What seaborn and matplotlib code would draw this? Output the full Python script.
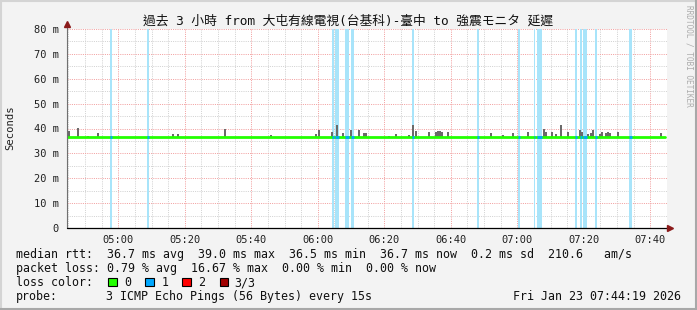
import matplotlib
matplotlib.use("Agg")
import numpy as np
import pandas as pd
import seaborn as sns
import matplotlib.pyplot as plt
import matplotlib.dates as mdates
from matplotlib.patches import Rectangle
from matplotlib.lines import Line2D

# ---------------- data ----------------
DAY = "2026-01-23 "
title_text = "過去 3 小時 from 大屯有線電視(台基科)-臺中 to 強震モニタ 延遲"

median_times = ["04:44:36", "07:44:19"]
median_ms = [36.7, 36.7]

smoke_times = [
    "04:45:12", "04:47:54", "04:50:54", "04:53:54", "05:16:24", "05:18:00",
    "05:32:12", "05:45:54", "05:59:30", "06:00:24", "06:04:18", "06:05:54",
    "06:07:42", "06:10:06", "06:12:24", "06:13:54", "06:14:30", "06:21:24",
    "06:23:30", "06:27:24", "06:28:36", "06:29:30", "06:33:24", "06:35:30",
    "06:36:06", "06:36:42", "06:37:18", "06:39:06", "06:52:06", "06:55:42",
    "06:58:42", "07:03:12", "07:08:00", "07:08:36", "07:10:24", "07:11:36",
    "07:13:06", "07:15:18", "07:18:54", "07:19:30", "07:21:12", "07:22:06",
    "07:22:42", "07:24:54", "07:25:30", "07:26:42", "07:27:18", "07:27:54",
    "07:30:18", "07:43:12",
]
smoke_max_ms = [
    38.8, 40.2, 37.0, 38.2, 37.8, 37.8,
    39.8, 37.3, 37.8, 39.4, 38.5, 41.4,
    38.2, 39.4, 39.4, 38.2, 38.2, 37.0,
    37.8, 37.5, 41.4, 39.0, 38.6, 38.4,
    39.0, 38.8, 38.4, 38.6, 38.2, 37.5,
    38.2, 38.6, 39.8, 38.6, 38.6, 37.8,
    41.4, 38.6, 39.4, 38.6, 37.8, 38.2,
    39.4, 37.8, 38.6, 38.2, 38.6, 38.2,
    38.6, 38.2,
]

loss_start = [
    "04:57:30", "05:08:36", "06:04:18", "06:05:12", "06:08:18", "06:10:00",
    "06:28:18", "06:47:54", "07:00:06", "07:05:00", "07:05:48", "07:17:18",
    "07:18:54", "07:19:42", "07:23:18", "07:33:36",
]
loss_end = [
    "04:58:06", "05:09:12", "06:04:54", "06:06:24", "06:09:30", "06:10:54",
    "06:28:54", "06:48:30", "07:00:48", "07:05:18", "07:07:24", "07:17:54",
    "07:19:30", "07:20:54", "07:24:00", "07:34:30",
]

y_ticks = [0, 10, 20, 30, 40, 50, 60, 70, 80]
y_tick_labels = ["0", "10 m", "20 m", "30 m", "40 m", "50 m", "60 m", "70 m", "80 m"]

legend_labels = ["0", "1", "2", "3/3"]
legend_colors = ["#22ff00", "#00a8ff", "#ff0000", "#a00000"]

stats_lines = [
    "median rtt:  36.7 ms avg  39.0 ms max  36.5 ms min  36.7 ms now  0.2 ms sd  210.6   am/s",
    "packet loss: 0.79 % avg  16.67 % max  0.00 % min  0.00 % now",
]
probe_text = "3 ICMP Echo Pings (56 Bytes) every 15s"
date_text = "Fri Jan 23 07:44:19 2026"


def tnum(s):
    return mdates.date2num(pd.Timestamp(DAY + s))


# ---------------- style ----------------
sns.set_theme(style="white")
plt.rcParams["font.family"] = ["DejaVu Sans Mono", "Noto Sans CJK TC"]
plt.rcParams["axes.unicode_minus"] = False

W, H = 697, 310
fig = plt.figure(figsize=(W / 100, H / 100), dpi=100)
fig.patch.set_facecolor("#f3f3f3")


def fx(x):
    return x / W


def fy(y):
    return 1 - y / H


ax = fig.add_axes([fx(67), fy(228), 600 / W, 199 / H])
ax.set_facecolor("white")
for s in ax.spines.values():
    s.set_visible(False)

GREEN, BLUE = legend_colors[0], legend_colors[1]
LOSS_BG = "#a8e4fa"
SMOKE = "#6a6a6a"

# loss background
for s, e in zip(loss_start, loss_end):
    ax.axvspan(tnum(s), tnum(e), color=LOSS_BG, lw=0, zorder=1)

# smoke
sx = np.array([tnum(t) for t in smoke_times])
smax = np.array(smoke_max_ms)
ax.bar(sx, smax - median_ms[0], bottom=median_ms[0], width=36 / 86400,
       color=SMOKE, lw=0, zorder=2)

# median line
mx = [tnum(t) for t in median_times]
sns.lineplot(x=mx, y=median_ms, ax=ax, color=GREEN, lw=2.0, zorder=3)
for s, e in zip(loss_start, loss_end):
    ax.plot([tnum(s), tnum(e)], [median_ms[0], median_ms[0]], color=BLUE,
            lw=2.0, zorder=4, solid_capstyle="butt")

ax.set_xlim(tnum("04:44:34"), tnum("07:45:01"))
ax.set_ylim(0, 80)

ax.xaxis.set_major_locator(mdates.MinuteLocator(byminute=[0, 20, 40]))
ax.xaxis.set_minor_locator(mdates.MinuteLocator(byminute=range(0, 60, 5)))
ax.xaxis.set_major_formatter(mdates.DateFormatter("%H:%M"))
ax.set_yticks(y_ticks)
ax.set_yticklabels(y_tick_labels)
ax.set_yticks(np.arange(5, 80, 10), minor=True)

ax.set_axisbelow(True)
ax.grid(True, which="major", color="#f2a0a0", lw=0.72, dashes=(1, 1.2))
ax.grid(True, which="minor", color="#d2d2d2", lw=0.72, dashes=(1, 1.2))

ax.tick_params(axis="x", which="both", length=0, pad=5, labelsize=7.5,
               labelcolor="#202020")
ax.tick_params(axis="y", which="major", length=2, width=0.7, color="#f2a0a0",
               pad=4, labelsize=7.5, labelcolor="#202020")
ax.tick_params(axis="y", which="minor", length=2, width=0.7, color="#d2d2d2")
ax.set_xlabel("")
ax.set_ylabel("")

# axes lines & arrows
fig.add_artist(Line2D([fx(67), fx(67)], [fy(228), fy(25)], color="#707070", lw=0.8))
fig.add_artist(Line2D([fx(67), fx(669)], [fy(228), fy(228)], color="#000000", lw=0.9))
fig.add_artist(Line2D([fx(67)], [fy(24)], marker="^", markersize=4.5,
                      color="#8b1a1a", lw=0))
fig.add_artist(Line2D([fx(670)], [fy(228)], marker=">", markersize=4.5,
                      color="#8b1a1a", lw=0))

# texts
fig.text(fx(348), fy(21), title_text, ha="center", va="center", fontsize=9.2,
         color="#101010")
fig.text(fx(10), fy(128), "Seconds", rotation=90, ha="center", va="center",
         fontsize=7.6, color="#202020")
fig.text(fx(689), fy(5), "RRDTOOL / TOBI OETIKER", rotation=270, ha="center",
         va="top", fontsize=5.6, color="#acacac")

LEG = 8.35
baselines = [258, 272, 286, 300]
for i, line in enumerate(stats_lines):
    fig.text(fx(16), fy(baselines[i]), line, ha="left", va="baseline",
             fontsize=LEG, color="#101010")
fig.text(fx(16), fy(baselines[2]), "loss color:", ha="left", va="baseline",
         fontsize=LEG, color="#101010")
box_x = [108, 145, 182, 219.5]
lab_x = [124, 161.5, 198.5, 234.5]
for bx, lx, lab, col in zip(box_x, lab_x, legend_labels, legend_colors):
    fig.add_artist(Rectangle((fx(bx), fy(286)), 8.5 / W, 8 / H, facecolor=col,
                             edgecolor="#000000", lw=0.8))
    fig.text(fx(lx), fy(baselines[2]), lab, ha="left", va="baseline",
             fontsize=LEG, color="#101010")
fig.text(fx(16), fy(baselines[3]), "probe:", ha="left", va="baseline",
         fontsize=LEG, color="#101010")
fig.text(fx(106.5), fy(baselines[3]), probe_text, ha="left", va="baseline",
         fontsize=LEG, color="#101010")
fig.text(fx(681), fy(baselines[3]), date_text, ha="right", va="baseline",
         fontsize=LEG, color="#101010")

# outer frame
fig.add_artist(Line2D([0, 1], [fy(0.5), fy(0.5)], color="#d4d4d4", lw=1.5))
fig.add_artist(Line2D([fx(0.5), fx(0.5)], [0, 1], color="#d4d4d4", lw=1.5))
fig.add_artist(Line2D([0, 1], [fy(309), fy(309)], color="#a8a8a8", lw=1.5))
fig.add_artist(Line2D([fx(696), fx(696)], [0, 1], color="#a8a8a8", lw=1.5))

fig.savefig("out.png", dpi=100, facecolor=fig.get_facecolor())
